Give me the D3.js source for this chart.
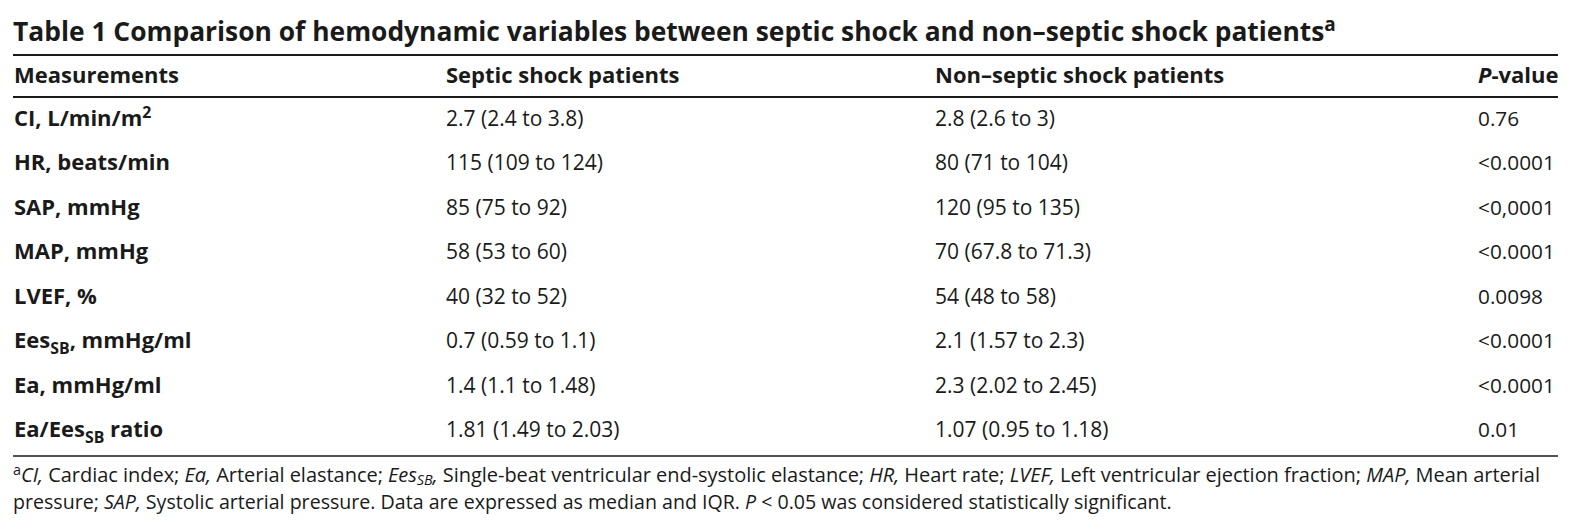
<!DOCTYPE html>
<html>
<head>
<meta charset="utf-8">
<script src="https://cdn.jsdelivr.net/npm/d3@7"></script>
<style>
  body { margin: 0; background: #fff; }
  svg { display: block; font-family: "Open Sans", sans-serif; }
</style>
</head>
<body>
<svg id="table"></svg>
<script>
// size of the page
var width = 1580,
    height = 532;

// table text. markup: *italic*, _{sub}, ^{sup}
var title = "Table 1 Comparison of hemodynamic variables between septic shock and non\u2013septic shock patients^{a}";
var headers = ["Measurements", "Septic shock patients", "Non\u2013septic shock patients", "*P*-value"];
var measurements = ["CI, L/min/m^{2}", "HR, beats/min", "SAP, mmHg", "MAP, mmHg", "LVEF, %",
                    "Ees_{SB}, mmHg/ml", "Ea, mmHg/ml", "Ea/Ees_{SB} ratio"];
var septic = ["2.7 (2.4 to 3.8)", "115 (109 to 124)", "85 (75 to 92)", "58 (53 to 60)", "40 (32 to 52)",
              "0.7 (0.59 to 1.1)", "1.4 (1.1 to 1.48)", "1.81 (1.49 to 2.03)"];
var nonSeptic = ["2.8 (2.6 to 3)", "80 (71 to 104)", "120 (95 to 135)", "70 (67.8 to 71.3)", "54 (48 to 58)",
                 "2.1 (1.57 to 2.3)", "2.3 (2.02 to 2.45)", "1.07 (0.95 to 1.18)"];
var pValues = ["0.76", "<0.0001", "<0,0001", "<0.0001", "0.0098", "<0.0001", "<0.0001", "0.01"];
var footnote = [
  "^{a}*CI,* Cardiac index; *Ea,* Arterial elastance; *Ees_{SB},* Single-beat ventricular end-systolic elastance; *HR,* Heart rate; *LVEF,* Left ventricular ejection fraction; *MAP,* Mean arterial",
  "pressure; *SAP,* Systolic arterial pressure. Data are expressed as median and IQR. *P* < 0.05 was considered statistically significant."
];

var ink = "#1a1a1a";

var svg = d3.select("#table")
  .attr("width", width)
  .attr("height", height);

// column positions (left edges) and row baselines
var col = d3.scaleOrdinal()
  .domain([0, 1, 2, 3])
  .range([14, 446, 935, 1478]);

var row = d3.scalePoint()
  .domain(measurements)
  .range([126, 437]);

// split the markup into pieces with a style each
function parseMarkup(s) {
  var parts = [], italic = false, buf = "", i = 0;
  function flush(kind) {
    if(buf.length) parts.push({text: buf, italic: italic, kind: kind || "normal"});
    buf = "";
  }
  while(i < s.length) {
    var c = s[i];
    if(c == "*") {
      flush();
      italic = !italic;
      i++;
    } else if((c == "_" || c == "^") && s[i+1] == "{") {
      flush();
      var end = s.indexOf("}", i);
      buf = s.slice(i+2, end);
      flush(c == "_" ? "sub" : "sup");
      i = end + 1;
    } else {
      buf += c;
      i++;
    }
  }
  flush();
  return parts;
}

// write one line of marked-up text
function richText(g, s, x, y, size, weight, fit, subDrop) {
  var t = g.append("text")
    .attr("x", x)
    .attr("y", y)
    .attr("fill", ink)
    .style("font-size", size + "px")
    .style("font-weight", weight);

  var shift = 0;
  parseMarkup(s).forEach(function(p) {
    var span = t.append("tspan")
      .text(p.text)
      .style("font-style", p.italic ? "italic" : "normal");
    var want = 0;
    if(p.kind == "sub") want = size * (subDrop || 0.26);
    if(p.kind == "sup") want = -size * 0.36;
    if(p.kind != "normal") span.style("font-size", (size * 0.72) + "px");
    if(want != shift) {
      span.attr("dy", want - shift);
      shift = want;
    }
  });

  // stretch a line to the width it has in the print
  if(fit) {
    t.attr("textLength", fit - x).attr("lengthAdjust", "spacing");
  }
  return t;
}

// title
richText(svg, title, 13, 41, 26.4, 700);

// rules
var rules = [
  {y: 55, w: 2},
  {y: 97, w: 2},
  {y: 456, w: 1.5}
];
svg.selectAll(".rule")
  .data(rules)
  .enter().append("line")
    .classed("rule", true)
    .attr("x1", 13)
    .attr("x2", 1558)
    .attr("y1", function(d) { return d.y; })
    .attr("y2", function(d) { return d.y; })
    .attr("stroke", ink)
    .attr("stroke-width", function(d) { return d.w; });

// header row
headers.forEach(function(h, i) {
  richText(svg, h, col(i), 83, 22, 700);
});

// body rows
var body = svg.append("g");
measurements.forEach(function(m, i) {
  var y = row(m);
  richText(body, m, col(0), y, 22, 700);
  richText(body, septic[i], col(1), y, 21, 400);
  richText(body, nonSeptic[i], col(2), y, 21, 400);
  richText(body, pValues[i], col(3), y, 20.8, 400);
});

// footnote lines
footnote.forEach(function(f, i) {
  richText(svg, f, 13, 482 + i * 27, i == 0 ? 20 : 19.6, 400, i == 0 ? 1540 : null, 0.16);
});
</script>
</body>
</html>
